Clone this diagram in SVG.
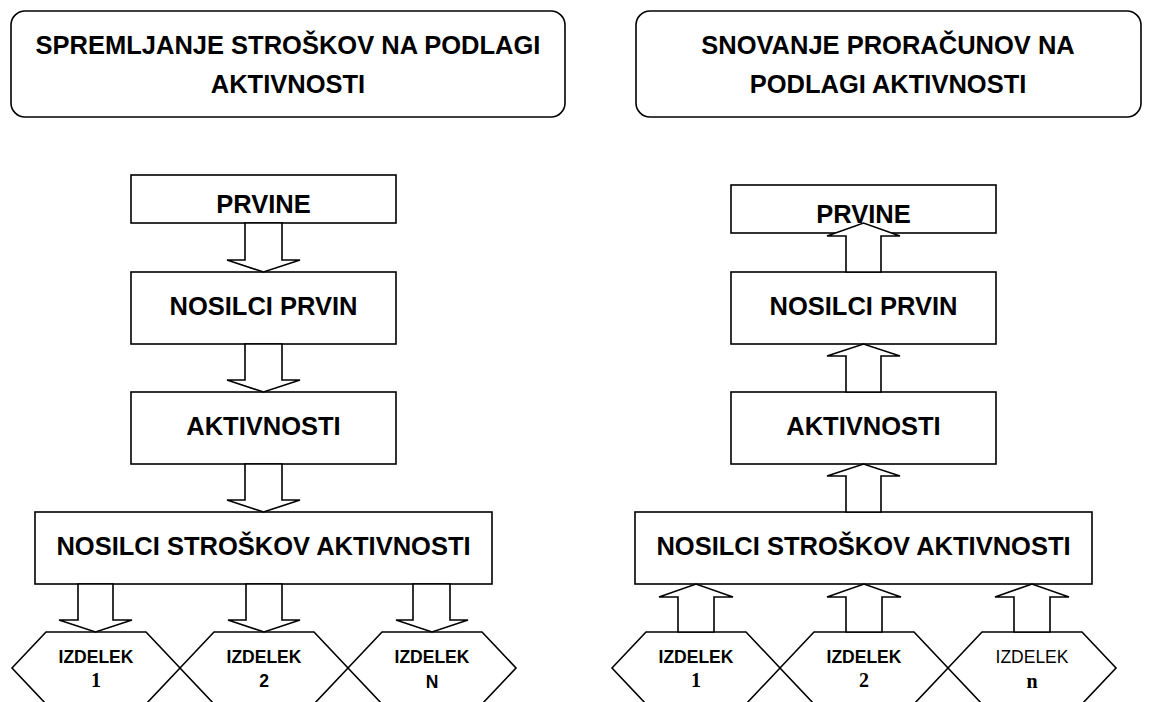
<svg xmlns="http://www.w3.org/2000/svg" width="1159" height="702" viewBox="0 0 1159 702">
<style>
.box{fill:#fff;stroke:#000;stroke-width:1.6}
.arr{fill:#fff;stroke:#000;stroke-width:1.6;stroke-linejoin:miter}
.t{font-family:"Liberation Sans",Arial,sans-serif;font-weight:bold;font-size:25.5px;text-anchor:middle;fill:#000}
.h{font-family:"Liberation Sans",Arial,sans-serif;font-weight:bold;font-size:17.5px;text-anchor:middle;fill:#000}
.hr{font-family:"Liberation Sans",Arial,sans-serif;font-weight:normal;font-size:17.5px;text-anchor:middle;fill:#000}
.ns{font-family:"Liberation Serif","Times New Roman",serif;font-weight:bold;font-size:20px;text-anchor:middle;fill:#000}
</style>
<rect width="1159" height="702" fill="#fff"/>
<g id="title-left"><rect class="box" x="11" y="11" width="554" height="106" rx="14"/><text class="t" x="288" y="54">SPREMLJANJE STROŠKOV NA PODLAGI</text><text class="t" x="288" y="93">AKTIVNOSTI</text></g>
<g id="title-right"><rect class="box" x="636" y="11" width="505" height="106" rx="14"/><text class="t" x="888" y="54">SNOVANJE PRORAČUNOV NA</text><text class="t" x="888" y="93">PODLAGI AKTIVNOSTI</text></g>

<g id="l-prvine"><rect class="box" x="131" y="175" width="265" height="48"/><text class="t" x="263.5" y="213">PRVINE</text></g>
<g id="l-nosilci-prvin"><rect class="box" x="131" y="272" width="265" height="72"/><text class="t" x="263.5" y="315">NOSILCI PRVIN</text></g>
<g id="l-aktivnosti"><rect class="box" x="131" y="392" width="265" height="72"/><text class="t" x="263.5" y="435">AKTIVNOSTI</text></g>
<g id="l-nsa"><rect class="box" x="35" y="512" width="457" height="72"/><text class="t" x="263.5" y="555">NOSILCI STROŠKOV AKTIVNOSTI</text></g>
<g id="l-izdelek1"><polygon class="box" points="12,668 46,632 146,632 180,668 146,704 46,704"/><text class="h" x="96" y="663">IZDELEK</text><text class="ns" x="96" y="687">1</text></g>
<g id="l-izdelek2"><polygon class="box" points="180,668 214,632 314,632 348,668 314,704 214,704"/><text class="h" x="264" y="663">IZDELEK</text><text class="h" x="264" y="687">2</text></g>
<g id="l-izdelekN"><polygon class="box" points="348,668 382,632 482,632 516,668 482,704 382,704"/><text class="h" x="432" y="663">IZDELEK</text><text class="h" x="432" y="688">N</text></g>

<g id="r-prvine"><rect class="box" x="731" y="185" width="265" height="48"/><text class="t" x="863.5" y="223">PRVINE</text></g>
<g id="r-nosilci-prvin"><rect class="box" x="731" y="272" width="265" height="72"/><text class="t" x="863.5" y="315">NOSILCI PRVIN</text></g>
<g id="r-aktivnosti"><rect class="box" x="731" y="392" width="265" height="72"/><text class="t" x="863.5" y="435">AKTIVNOSTI</text></g>
<g id="r-nsa"><rect class="box" x="635" y="512" width="457" height="72"/><text class="t" x="863.5" y="555">NOSILCI STROŠKOV AKTIVNOSTI</text></g>
<g id="r-izdelek1"><polygon class="box" points="612,668 646,632 746,632 780,668 746,704 646,704"/><text class="h" x="696" y="663">IZDELEK</text><text class="ns" x="696" y="687">1</text></g>
<g id="r-izdelek2"><polygon class="box" points="780,668 814,632 914,632 948,668 914,704 814,704"/><text class="h" x="864" y="663">IZDELEK</text><text class="ns" x="864" y="687">2</text></g>
<g id="r-izdelekn"><polygon class="box" points="948,668 982,632 1082,632 1116,668 1082,704 982,704"/><text class="hr" x="1032" y="663">IZDELEK</text><text class="ns" x="1032" y="688">n</text></g>

<g id="connectors">
<polygon class="arr" points="245,223 245,260 227,260 263.5,272 300,260 282,260 282,223"/>
<polygon class="arr" points="245,344 245,380 227,380 263.5,392 300,380 282,380 282,344"/>
<polygon class="arr" points="245,464 245,500 227,500 263.5,512 300,500 282,500 282,464"/>
<polygon class="arr" points="78,584 78,620 59,620 95.5,632 132,620 113,620 113,584"/>
<polygon class="arr" points="246,584 246,620 228,620 264,632 300,620 282,620 282,584"/>
<polygon class="arr" points="413,584 413,620 396,620 432,632 468,620 450,620 450,584"/>
<polygon class="arr" points="846,272 846,236 827,236 863.5,223 900,236 881,236 881,272"/>
<polygon class="arr" points="846,392 846,356 827,356 863.5,344 900,356 881,356 881,392"/>
<polygon class="arr" points="846,512 846,476 827,476 863.5,464 900,476 881,476 881,512"/>
<polygon class="arr" points="678,632 678,597 659,597 696,584 733,597 714,597 714,632"/>
<polygon class="arr" points="846,632 846,597 827,597 864,584 901,597 882,597 882,632"/>
<polygon class="arr" points="1014,632 1014,597 995,597 1032,584 1069,597 1050,597 1050,632"/>
</g>
</svg>
